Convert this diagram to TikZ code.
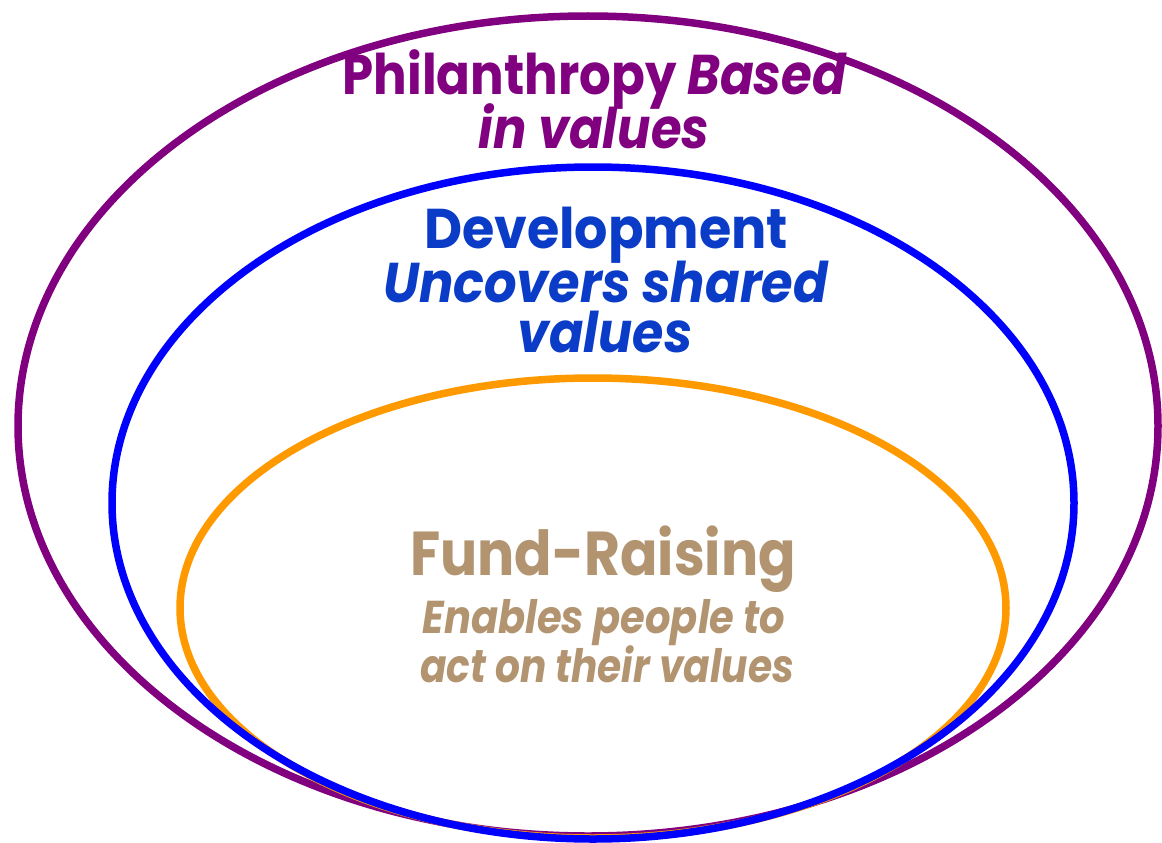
\documentclass[tikz,border=0pt]{standalone}
\usepackage{fontspec}
\usepackage{graphicx}
\setmainfont{Poppins}
\definecolor{purp}{HTML}{800080}
\definecolor{blu}{HTML}{0000FF}
\definecolor{orng}{HTML}{FF9900}
\definecolor{bluetext}{HTML}{0A3CC8}
\definecolor{tan}{HTML}{B39470}
\tikzset{
  ring/.style={line width=7.5pt},
  lbl/.style={anchor=base, inner sep=0pt, font=\bfseries},
  big/.style={font=\bfseries\fontsize{56}{56}\selectfont, text height=38pt, text depth=8pt},
  fund/.style={font=\bfseries\fontsize{62}{62}\selectfont, text height=42pt, text depth=9pt},
  sub/.style={font=\bfseries\fontsize{46}{46}\selectfont, text height=32pt, text depth=7pt},
}
\begin{document}
\begin{tikzpicture}[x=1pt,y=-1pt]
\useasboundingbox (0,0) rectangle (1162,843);
\fill[white] (0,0) rectangle (1162,843);
% rings
\draw[ring, purp] (588,426) ellipse [x radius=570, y radius=410];
\draw[ring, orng] (593,608) ellipse [x radius=413, y radius=230];
\draw[ring, blu] (593,503) ellipse [x radius=481, y radius=336];
% outer text
\node[lbl, big, purp] (p1) at (595,95) {\scalebox{0.89}[1]{Philanthropy \textit{Based}}};
\node[lbl, big, purp] (p2) at (594,148) {\scalebox{0.885}[1]{\textit{in values}}};
% middle text
\node[lbl, big, bluetext] (d1) at (606,248) {\scalebox{0.935}[1]{Development}};
\node[lbl, big, bluetext] (d2) at (606,302) {\scalebox{0.912}[1]{\textit{Uncovers shared}}};
\node[lbl, big, bluetext] (d3) at (605,352) {\scalebox{0.905}[1]{\textit{values}}};
% inner text
\node[lbl, fund, tan] (f1) at (603,575) {\scalebox{0.89}[1]{Fund-Raising}};
\node[lbl, sub, tan] (f2) at (604,633) {\scalebox{0.87}[1]{\textit{Enables people to}}};
\node[lbl, sub, tan] (f3) at (607,682) {\scalebox{0.85}[1]{\textit{act on their values}}};
\end{tikzpicture}
\end{document}
